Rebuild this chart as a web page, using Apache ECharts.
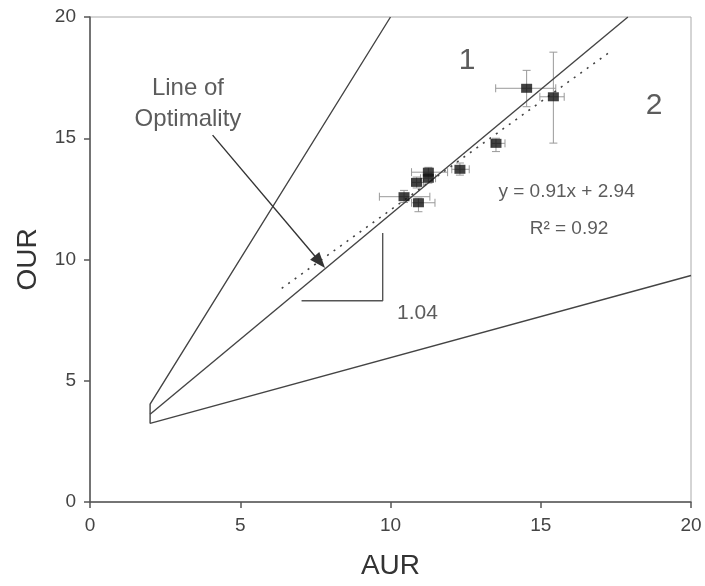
<!DOCTYPE html>
<html><head><meta charset="utf-8">
<script src="https://cdn.jsdelivr.net/npm/echarts@6/dist/echarts.min.js"></script>
<style>html,body{margin:0;padding:0;background:#fff}#c{width:705px;height:586px}</style>
</head><body><div id="c"></div>
<script>
// measured points (AUR, OUR) with error bar extents
const aur   = [14.53, 15.42, 13.51, 12.31, 11.26, 11.26, 10.87, 10.45, 10.93];
const our   = [17.06, 16.71, 14.79, 13.72, 13.60, 13.35, 13.18, 12.59, 12.34];
const aurLo = [13.50, 14.97, 13.37, 12.04, 10.70, 11.00, 10.70,  9.63, 10.70];
const aurHi = [15.50, 15.78, 13.81, 12.62, 11.90, 11.50, 11.10, 11.31, 11.48];
const ourLo = [16.30, 14.80, 14.45, 13.48, 13.40, 13.15, 12.95, 12.35, 11.97];
const ourHi = [17.80, 18.55, 15.00, 13.98, 13.80, 13.55, 13.40, 12.85, 12.53];
// reference lines
const upperLine   = [[2, 3.24], [2, 4.04], [10, 20]];
const optimality  = [[2, 3.62], [17.9, 20]];
const lowerLine   = [[2, 3.24], [20, 9.34]];
const regression  = [[6.38, 8.81], [17.36, 18.61]];
const slopeMark   = [[7.04, 8.30], [9.74, 8.30], [9.74, 11.09]];
const arrowFrom = [4.08, 15.13], arrowTo = [7.65, 9.90];
// annotations [x, y, text]
const notes = [
  [12.55, 18.19, '1', 30],
  [18.77, 16.33, '2', 30],
  [3.26, 16.41, 'Line of\nOptimality', 24],
  [15.86, 12.80, 'y = 0.91x + 2.94', 19],
  [15.94, 11.26, 'R\u00b2 = 0.92', 19],
  [10.90, 7.79, '1.04', 21]
];
const xTicks = [0, 5, 10, 15, 20];

const FONT = 'Liberation Sans, Arial, sans-serif';
const chart = echarts.init(document.getElementById('c'), null, {renderer: 'canvas'});
const lineStyle = {color: '#444', width: 1.4};
const pts = aur.map((x, i) => [x, our[i], aurLo[i], aurHi[i], ourLo[i], ourHi[i]]);

chart.setOption({
  animation: false,
  grid: {left: 90, right: 14, top: 17, bottom: 84, show: true, borderColor: '#aaa', borderWidth: 1},
  xAxis: {
    type: 'value', min: xTicks[0], max: xTicks[xTicks.length - 1], interval: 5,
    name: 'AUR', nameLocation: 'middle', nameGap: 50,
    nameTextStyle: {fontSize: 28, color: '#333', fontFamily: FONT},
    axisLine: {show: true, lineStyle: {color: '#555', width: 1.5}},
    axisTick: {show: true, length: 6, lineStyle: {color: '#555', width: 1.5}},
    axisLabel: {fontSize: 19, color: '#444', margin: 14, fontFamily: FONT},
    splitLine: {show: false}
  },
  yAxis: {
    type: 'value', min: 0, max: 20, interval: 5,
    name: 'OUR', nameLocation: 'middle', nameGap: 48,
    nameTextStyle: {fontSize: 28, color: '#333', fontFamily: FONT},
    axisLine: {show: true, lineStyle: {color: '#555', width: 1.5}},
    axisTick: {show: true, length: 6, lineStyle: {color: '#555', width: 1.5}},
    axisLabel: {fontSize: 19, color: '#444', margin: 14, fontFamily: FONT},
    splitLine: {show: false}
  },
  series: [
    {type: 'line', data: upperLine, symbol: 'none', lineStyle, silent: true},
    {type: 'line', data: optimality, symbol: 'none', lineStyle, silent: true},
    {type: 'line', data: lowerLine, symbol: 'none', lineStyle, silent: true},
    {type: 'line', data: slopeMark, symbol: 'none', lineStyle: {color: '#555', width: 1.4}, silent: true},
    {type: 'line', data: regression, symbol: 'none', lineStyle: {color: '#444', width: 1.6, type: [2, 6]}, silent: true},
    {
      type: 'custom', silent: true, data: pts, z: 3,
      renderItem: function (params, api) {
        const c = api.coord([api.value(0), api.value(1)]);
        const l = api.coord([api.value(2), api.value(1)]);
        const r = api.coord([api.value(3), api.value(1)]);
        const b = api.coord([api.value(0), api.value(4)]);
        const t = api.coord([api.value(0), api.value(5)]);
        const cap = 4;
        const st = {stroke: '#999', lineWidth: 1, fill: null};
        return {type: 'group', children: [
          {type: 'line', shape: {x1: l[0], y1: c[1], x2: r[0], y2: c[1]}, style: st},
          {type: 'line', shape: {x1: l[0], y1: c[1] - cap, x2: l[0], y2: c[1] + cap}, style: st},
          {type: 'line', shape: {x1: r[0], y1: c[1] - cap, x2: r[0], y2: c[1] + cap}, style: st},
          {type: 'line', shape: {x1: c[0], y1: b[1], x2: c[0], y2: t[1]}, style: st},
          {type: 'line', shape: {x1: c[0] - cap, y1: b[1], x2: c[0] + cap, y2: b[1]}, style: st},
          {type: 'line', shape: {x1: c[0] - cap, y1: t[1], x2: c[0] + cap, y2: t[1]}, style: st}
        ]};
      }
    },
    {
      type: 'scatter', data: pts.map(p => [p[0], p[1]]), symbol: 'rect', symbolSize: [11, 9],
      itemStyle: {color: '#111'}, z: 4, silent: true,
      markLine: {
        silent: true, symbol: ['none', 'triangle'], symbolSize: [12, 16],
        label: {show: false},
        lineStyle: {color: '#333', width: 1.4, type: 'solid'},
        data: [[{coord: arrowFrom}, {coord: arrowTo}]]
      }
    },
    {
      type: 'scatter', symbolSize: 0, silent: true,
      data: notes.map(n => ({value: [n[0], n[1]], label: {show: true, formatter: n[2], fontSize: n[3], lineHeight: Math.round(n[3] * 1.3)}})),
      label: {show: true, position: 'inside', color: '#333', fontFamily: FONT, align: 'center', verticalAlign: 'middle'}
    }
  ]
});
</script></body></html>
